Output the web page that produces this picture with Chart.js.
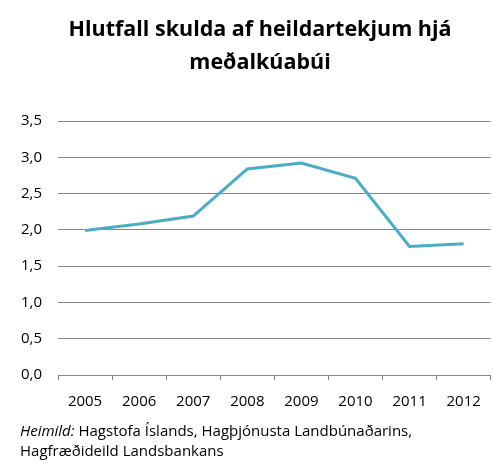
<!DOCTYPE html>
<html>
<head>
<meta charset="utf-8">
<script src="https://cdn.jsdelivr.net/npm/chart.js@4"></script>
<style>
  html, body { margin: 0; padding: 0; background: #fff; }
  #wrap { position: relative; width: 494px; height: 470px; overflow: hidden; }
  #c { position: absolute; left: 0; top: 0; }
  #title { position: absolute; left: 0; top: 11px; width: 520px; text-align: center; font-family: "Open Sans", sans-serif; font-weight: bold; font-size: 21.5px; line-height: 33px; color: #000; }
  #src { position: absolute; left: 20px; top: 420px; font-family: "Open Sans", sans-serif; font-size: 15px; line-height: 20px; color: #000; }
</style>
</head>
<body>
<div id="wrap">
  <canvas id="c" width="494" height="470"></canvas>
  <div id="title"></div>
  <div id="src"><i>Heimild:</i> Hagstofa Íslands, Hagþjónusta Landbúnaðarins,<br>Hagfræðideild Landsbankans</div>
</div>
<script>
const categories = ["2005", "2006", "2007", "2008", "2009", "2010", "2011", "2012"];
const debtRatio = [1.99, 2.08, 2.19, 2.84, 2.92, 2.71, 1.77, 1.81];
const titleLines = ["Hlutfall skulda af heildartekjum hjá", "meðalkúabúi"];
const yTicks = [0, 0.5, 1, 1.5, 2, 2.5, 3, 3.5];

document.getElementById("title").innerHTML = titleLines.join("<br>");

const FONT = "'Open Sans', sans-serif";
const GRID = "#868686";

new Chart(document.getElementById("c"), {
  type: "line",
  data: {
    labels: categories,
    datasets: [{
      data: debtRatio,
      borderColor: "#4BACC6",
      borderWidth: 3,
      pointRadius: 0,
      tension: 0,
      fill: false
    }]
  },
  options: {
    responsive: false,
    animation: false,
    devicePixelRatio: 1,
    layout: { padding: { left: 0, right: 3, top: 121, bottom: 46 } },
    plugins: {
      legend: { display: false },
      tooltip: { enabled: false },
      title: { display: false }
    },
    scales: {
      y: {
        min: 0, max: 3.5,
        afterBuildTicks: (s) => { s.ticks = yTicks.map(v => ({ value: v })); },
        afterFit: (s) => { s.width = 58; },
        ticks: {
          color: "#000",
          padding: 16,
          font: { family: FONT, size: 15 },
          callback: (v) => v.toFixed(1).replace(".", ",")
        },
        grid: { color: GRID, lineWidth: 1, drawTicks: false },
        border: { display: false }
      },
      x: {
        offset: true,
        ticks: {
          color: "#000",
          padding: 13,
          maxRotation: 0,
          font: { family: FONT, size: 15 }
        },
        grid: { offset: true, drawOnChartArea: false, drawTicks: true, tickLength: 5, color: GRID, tickColor: GRID },
        border: { display: true, color: GRID, width: 1 }
      }
    }
  }
});
</script>
</body>
</html>
